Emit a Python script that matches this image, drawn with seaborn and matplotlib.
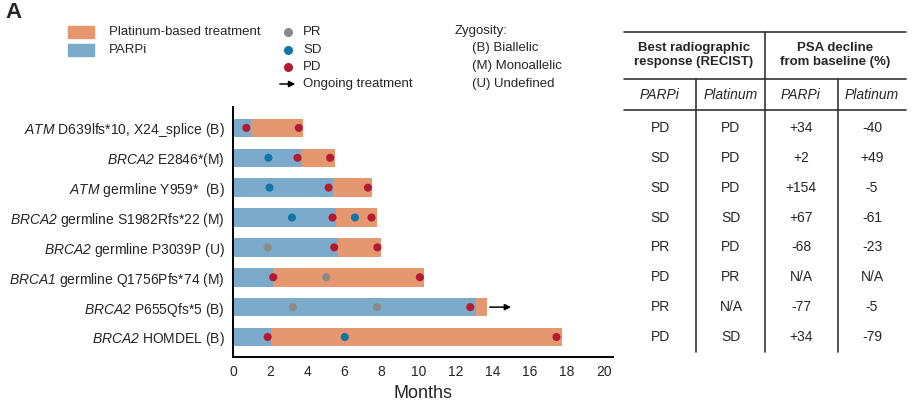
import matplotlib
matplotlib.use("Agg")
import matplotlib.pyplot as plt
from matplotlib.lines import Line2D
from matplotlib.patches import Rectangle
import matplotlib.transforms as mtransforms
import pandas as pd
import seaborn as sns

# ---- data ----
genes = ["ATM", "BRCA2", "ATM", "BRCA2", "BRCA2", "BRCA1", "BRCA2", "BRCA2"]
variants = ["D639lfs*10, X24_splice (B)", "E2846*(M)", "germline Y959*  (B)",
            "germline S1982Rfs*22 (M)", "germline P3039P (U)",
            "germline Q1756Pfs*74 (M)", "P655Qfs*5 (B)", "HOMDEL (B)"]
parpi_end = [0.98, 3.74, 5.39, 5.56, 5.69, 2.17, 13.1, 2.04]
total_end = [3.76, 5.48, 7.52, 7.75, 7.96, 10.32, 13.7, 17.73]

dot_row = [0, 0, 1, 1, 1, 2, 2, 2, 3, 3, 3, 3, 4, 4, 4, 5, 5, 5, 6, 6, 6, 7, 7, 7]
dot_month = [0.72, 3.55, 1.91, 3.48, 5.24, 1.97, 5.16, 7.28, 3.18, 5.37, 6.58, 7.47,
             1.87, 5.46, 7.79, 2.17, 5.03, 10.08, 3.23, 7.77, 12.8, 1.87, 6.03, 17.45]
dot_resp = ["PD", "PD", "SD", "PD", "PD", "SD", "PD", "PD", "SD", "PD", "SD", "PD",
            "PR", "PD", "PD", "PD", "PR", "PD", "PR", "PR", "PD", "PD", "SD", "PD"]

ongoing_row = 6
ongoing_from, ongoing_to = 13.85, 15.0

recist_parpi = ["PD", "SD", "SD", "SD", "PR", "PD", "PR", "PD"]
recist_plat = ["PD", "PD", "PD", "SD", "PD", "PR", "N/A", "SD"]
psa_parpi = ["+34", "+2", "+154", "+67", "-68", "N/A", "-77", "+34"]
psa_plat = ["-40", "+49", "-5", "-61", "-23", "N/A", "-5", "-79"]

ORANGE = "#E5976F"
BLUE = "#7BAACB"
resp_colors = {"PR": "#8A8A8A", "SD": "#1275A8", "PD": "#B51A30"}

sns.set_style("white")
plt.rcParams["font.family"] = ["Liberation Sans", "DejaVu Sans"]
# gene names go through mathtext \mathrm, mapped to the italic face so digits are slanted too
plt.rcParams["mathtext.fontset"] = "custom"
plt.rcParams["mathtext.rm"] = "Liberation Sans:italic"
plt.rcParams["mathtext.it"] = "Liberation Sans:italic"

W, H = 913, 413
fig = plt.figure(figsize=(W / 100, H / 100), dpi=100)


def fx(x):
    return x / W


def fy(y):
    return 1 - y / H


ax = fig.add_axes([fx(233), fy(357), fx(613) - fx(233), fy(107) - fy(357)])

labels = [rf"$\mathrm{{{g}}}$ {v}" for g, v in zip(genes, variants)]
bars = pd.DataFrame({"label": labels, "parpi": parpi_end, "total": total_end})

sns.barplot(data=bars, y="label", x="total", color=ORANGE, width=0.62,
            saturation=1, orient="h", linewidth=0, ax=ax)
sns.barplot(data=bars, y="label", x="parpi", color=BLUE, width=0.62,
            saturation=1, orient="h", linewidth=0, ax=ax)

dots = pd.DataFrame({"row": dot_row, "month": dot_month, "resp": dot_resp})
sns.scatterplot(data=dots, x="month", y="row", hue="resp", palette=resp_colors,
                s=34, linewidth=0, legend=False, zorder=5, ax=ax)

ax.annotate("", xy=(ongoing_to, ongoing_row), xytext=(ongoing_from, ongoing_row),
            arrowprops=dict(arrowstyle="-|>", color="black", lw=1.1,
                            mutation_scale=9, shrinkA=0, shrinkB=0))

ax.set_xlim(0, 20.5)
ax.set_ylim(7.67, -0.70)
ax.set_xticks(range(0, 21, 2))
ax.set_yticks(range(len(labels)))
ax.set_yticklabels(labels, fontsize=10)
ax.set_xlabel("Months", fontsize=13, family=["Liberation Sans Narrow", "Liberation Sans"],
              labelpad=4)
ax.set_ylabel("")
ax.tick_params(axis="x", labelsize=10, length=3, width=1, direction="out", pad=3)
ax.tick_params(axis="y", length=0, pad=6)
sns.despine(ax=ax)
for s in ["left", "bottom"]:
    ax.spines[s].set_linewidth(1.4)
    ax.spines[s].set_color("black")

# ---- panel letter and legend ----
fig.text(fx(5), fy(12), "A", fontsize=16, fontweight="bold", va="center", ha="left")
for yy, col, txt in [(32, ORANGE, "Platinum-based treatment"), (50, BLUE, "PARPi")]:
    fig.patches.append(Rectangle((fx(68), fy(yy + 6)), fx(94) - fx(68), fy(yy - 6) - fy(yy + 6),
                                 transform=fig.transFigure, color=col))
    fig.text(fx(109), fy(yy), txt, fontsize=9.5, va="center")
for yy, r in [(32, "PR"), (50, "SD"), (67, "PD")]:
    fig.add_artist(Line2D([fx(288)], [fy(yy)], marker="o", markersize=5.5, linestyle="",
                          color=resp_colors[r], transform=fig.transFigure))
    fig.text(fx(303), fy(yy), r, fontsize=9.5, va="center")
fig.add_artist(matplotlib.patches.FancyArrowPatch((fx(277), fy(84)), (fx(298), fy(84)),
               transform=fig.transFigure, arrowstyle="-|>", mutation_scale=9,
               color="black", lw=1.1))
fig.text(fx(303), fy(84), "Ongoing treatment", fontsize=9.5, va="center")
fig.text(fx(455), fy(31), "Zygosity:", fontsize=9.5, va="center")
for yy, txt in [(48, "(B) Biallelic"), (66, "(M) Monoallelic"), (84, "(U) Undefined")]:
    fig.text(fx(472), fy(yy), txt, fontsize=9.5, va="center")

# ---- table ----
line_kw = dict(color="#333333", lw=1.2, transform=fig.transFigure)
for yy in [32, 79, 110]:
    fig.add_artist(Line2D([fx(624), fx(906)], [fy(yy), fy(yy)], **line_kw))
fig.add_artist(Line2D([fx(765), fx(765)], [fy(32), fy(352)], **line_kw))
for xx in [696, 838]:
    fig.add_artist(Line2D([fx(xx), fx(xx)], [fy(79), fy(352)], **line_kw))

fig.text(fx(694), fy(55), "Best radiographic\nresponse (RECIST)", fontsize=9.5,
         fontweight="bold", ha="center", va="center", linespacing=1.3)
fig.text(fx(835), fy(55), "PSA decline\nfrom baseline (%)", fontsize=9.5,
         fontweight="bold", ha="center", va="center", linespacing=1.3)
col_x = [660, 731, 801, 872]
for xx, txt in zip(col_x, ["PARPi", "Platinum", "PARPi", "Platinum"]):
    fig.text(fx(xx), fy(95), txt, fontsize=10, style="italic", ha="center", va="center")

trans = mtransforms.blended_transform_factory(fig.transFigure, ax.transData)
for col, vals in zip(col_x, [recist_parpi, recist_plat, psa_parpi, psa_plat]):
    for i, v in enumerate(vals):
        fig.text(fx(col), i, v, fontsize=10, ha="center", va="center", transform=trans)

fig.savefig("out.png", dpi=100)
